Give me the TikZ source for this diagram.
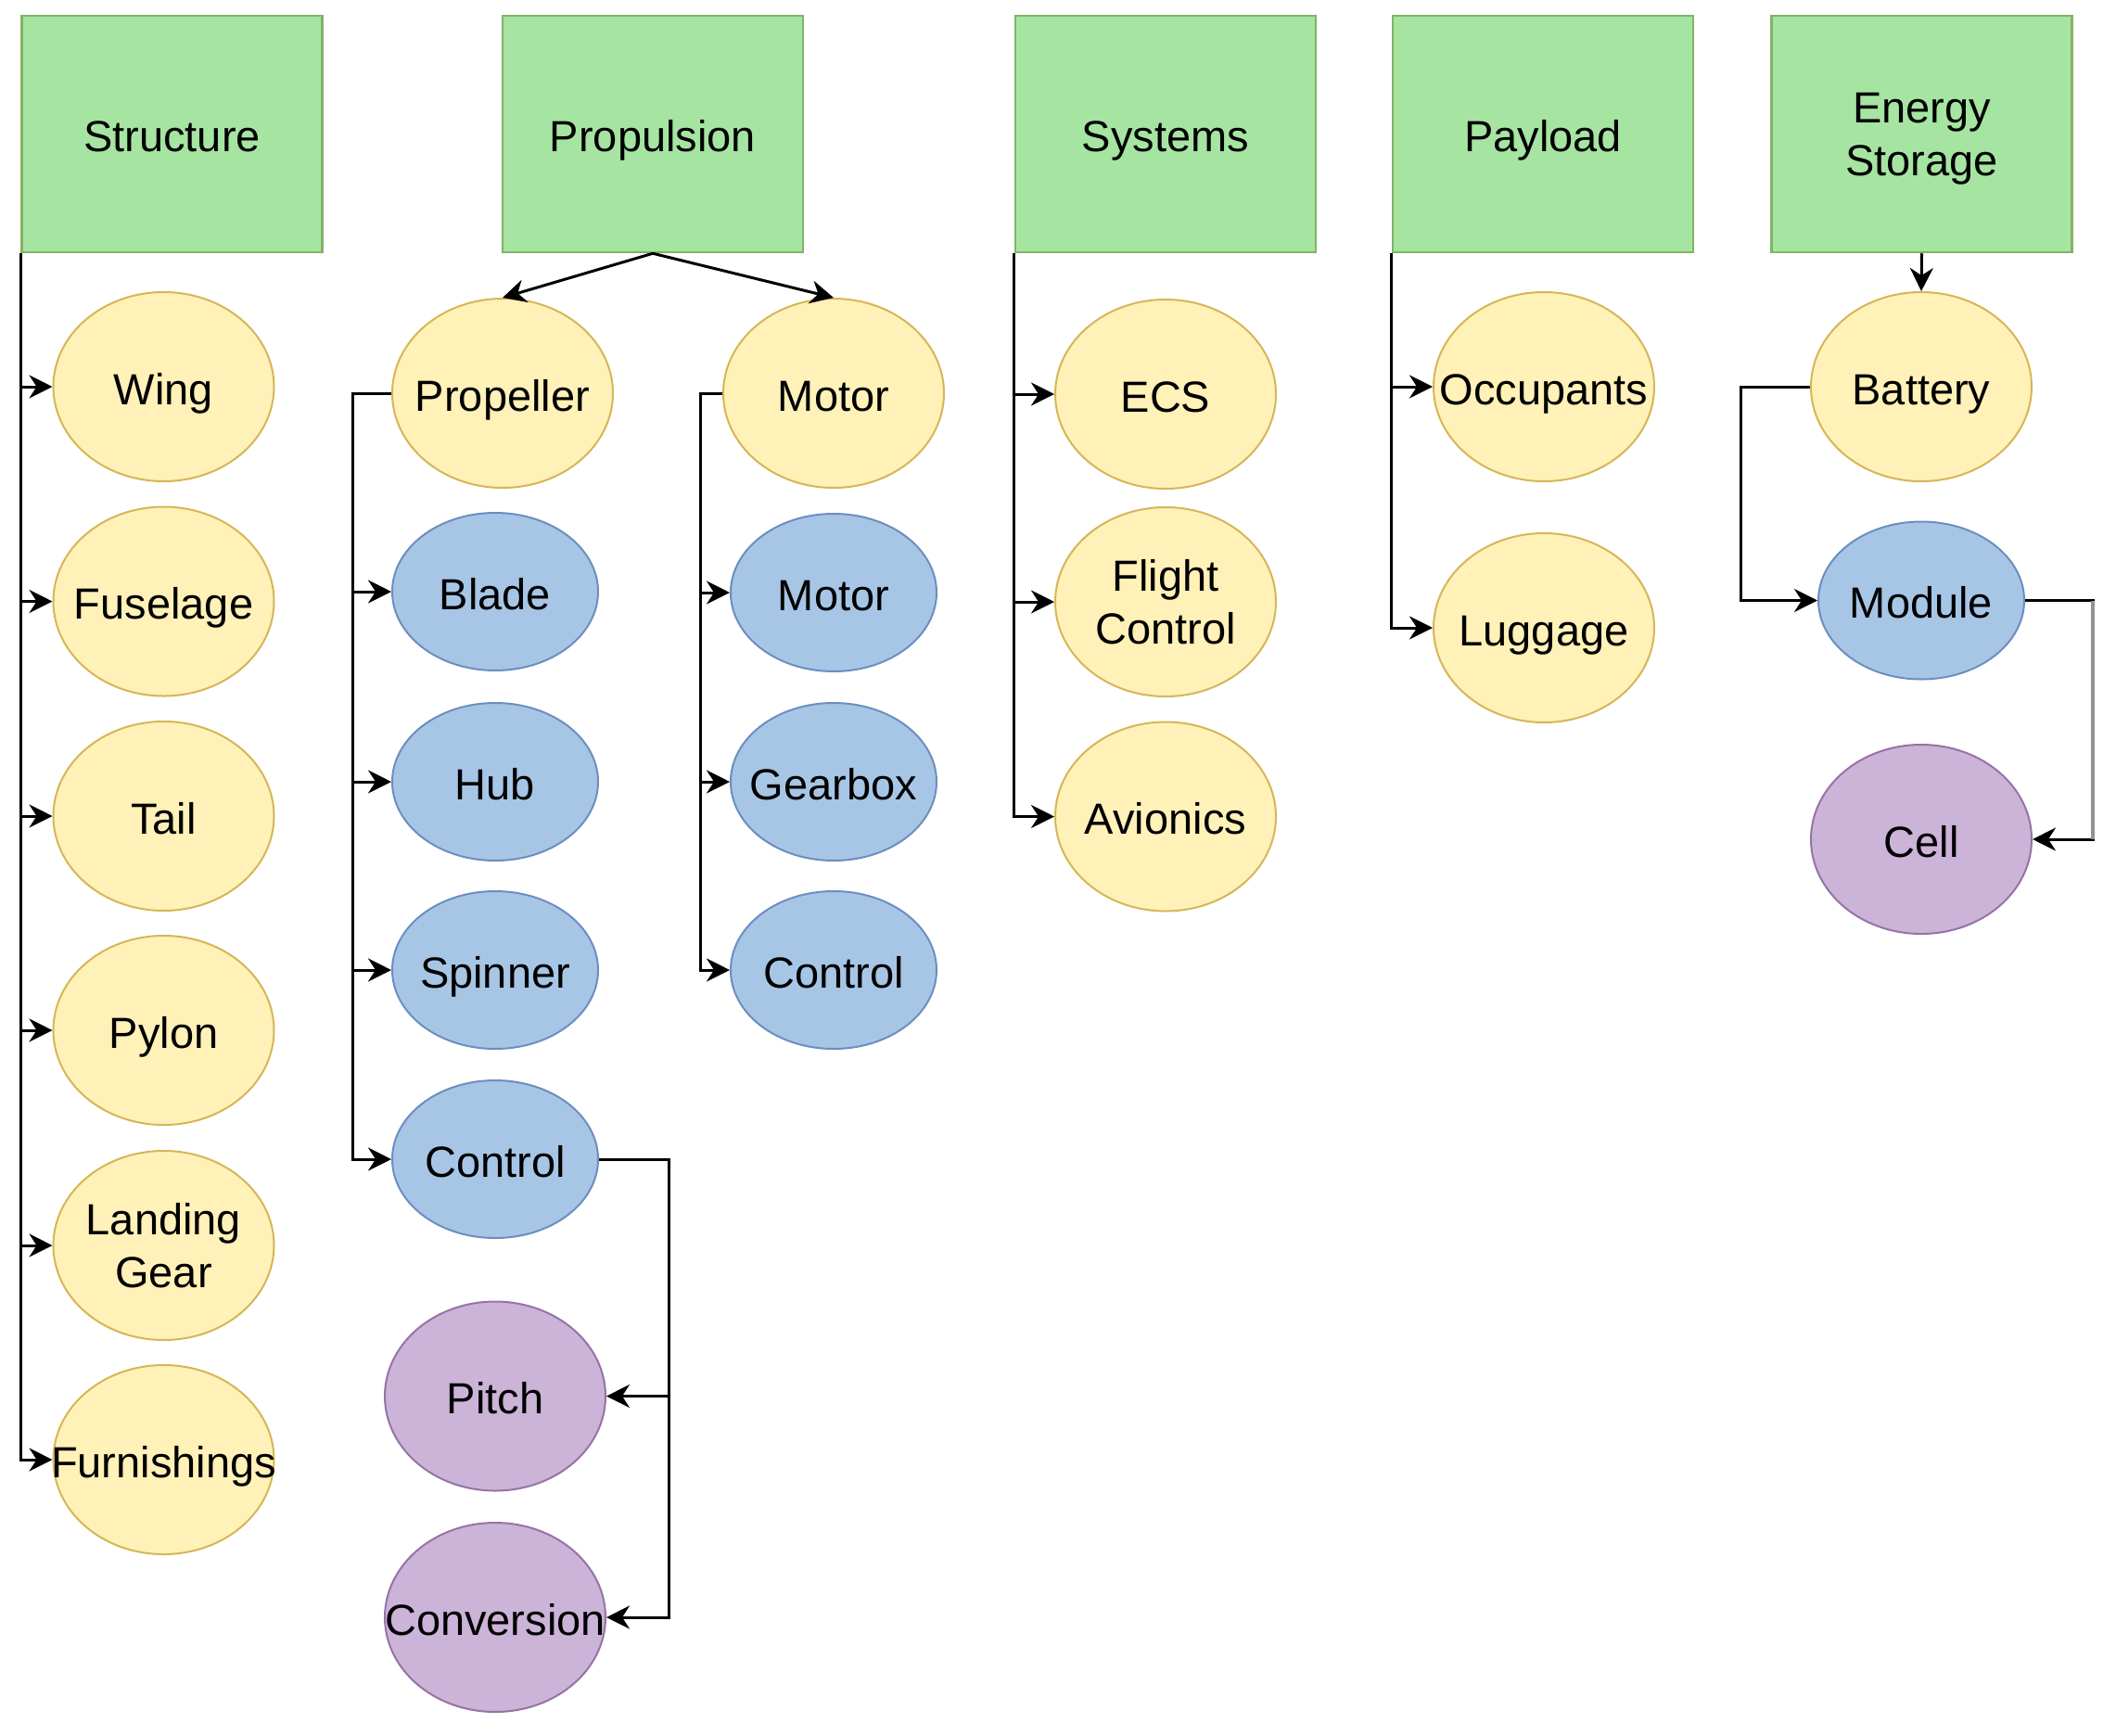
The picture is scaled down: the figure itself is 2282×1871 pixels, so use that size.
\documentclass[tikz,border=0pt]{standalone}
\usepackage{fontspec}
\setmainfont{Liberation Sans}
\usetikzlibrary{shapes.geometric,arrows.meta}
\definecolor{gfill}{HTML}{A6E4A2}
\definecolor{gstroke}{HTML}{82B366}
\definecolor{yfill}{HTML}{FFF1B8}
\definecolor{ystroke}{HTML}{D6B656}
\definecolor{bfill}{HTML}{A7C6E6}
\definecolor{bstroke}{HTML}{6C8EBF}
\definecolor{pfill}{HTML}{CCB3D8}
\definecolor{pstroke}{HTML}{9673A6}
\newcommand\tx[1]{\raisebox{-8pt}[\height][\depth]{\makebox[0pt]{\begin{tabular}{@{}c@{}}#1\end{tabular}}}}
\newcommand\ttx[1]{\raisebox{-5.5pt}[\height][\depth]{\makebox[0pt]{\begin{tabular}{@{}c@{}}#1\end{tabular}}}}
\begin{document}
\begin{tikzpicture}[x=1pt,y=-1pt,font=\fontsize{47}{57}\selectfont,
  cat/.style={rectangle,draw=gstroke,fill=gfill,line width=2.5pt,minimum width=324pt,minimum height=255pt,inner sep=0pt},
  yel/.style={ellipse,draw=ystroke,fill=yfill,line width=2pt,minimum width=238pt,minimum height=204pt,inner sep=0pt},
  blu/.style={ellipse,draw=bstroke,fill=bfill,line width=2pt,minimum width=222pt,minimum height=170pt,inner sep=0pt},
  pur/.style={ellipse,draw=pstroke,fill=pfill,line width=2pt,minimum width=238pt,minimum height=204pt,inner sep=0pt},
  conn/.style={line width=3pt,-{Stealth[length=25pt,width=25pt,inset=8pt]}}]
\useasboundingbox (0,0) rectangle (2282,1871);
% categories
\node[cat] (structure) at (185.5,144.5) {\tx{Structure}};
\node[cat] (propulsion) at (704,144.5) {\tx{Propulsion}};
\node[cat] (systems) at (1257,144.5) {\tx{Systems}};
\node[cat] (payload) at (1664,144.5) {\tx{Payload}};
\node[cat] (energy) at (2072.5,144.5) {\ttx{Energy\\Storage}};
% structure
\node[yel] (wing) at (176.5,417) {\tx{Wing}};
\node[yel] (fuselage) at (176.5,648.5) {\tx{Fuselage}};
\node[yel] (tail) at (176.5,880) {\tx{Tail}};
\node[yel] (pylon) at (176.5,1111) {\tx{Pylon}};
\node[yel] (landing) at (176.5,1343) {\ttx{Landing\\Gear}};
\node[yel] (furnish) at (176.5,1574) {\tx{Furnishings}};
% propulsion
\node[yel] (propeller) at (542,424) {\tx{Propeller}};
\node[yel] (motor) at (899,424) {\tx{Motor}};
\node[blu] (blade) at (534,638) {\tx{Blade}};
\node[blu] (hub) at (534,843) {\tx{Hub}};
\node[blu] (spinner) at (534,1046) {\tx{Spinner}};
\node[blu] (pctrl) at (534,1250) {\tx{Control}};
\node[pur] (pitch) at (534,1505.5) {\tx{Pitch}};
\node[pur] (conversion) at (534,1744) {\tx{Conversion}};
\node[blu] (mmotor) at (899,639) {\tx{Motor}};
\node[blu] (gearbox) at (899,843) {\tx{Gearbox}};
\node[blu] (mctrl) at (899,1046) {\tx{Control}};
% systems
\node[yel] (ecs) at (1257,425) {\tx{ECS}};
\node[yel] (flight) at (1257,649) {\ttx{Flight\\Control}};
\node[yel] (avionics) at (1257,880.5) {\tx{Avionics}};
% payload
\node[yel] (occupants) at (1665,417) {\tx{Occupants}};
\node[yel] (luggage) at (1665,677) {\tx{Luggage}};
% energy
\node[yel] (battery) at (2072,417) {\tx{Battery}};
\node[blu] (module) at (2072,647.5) {\tx{Module}};
\node[pur] (cell) at (2072,905) {\tx{Cell}};
% trunk coordinates
\coordinate (pt) at (380,0);
\coordinate (mt) at (755,0);
\coordinate (ct) at (721,0);
\coordinate (et) at (1877,0);
\coordinate (ec) at (2257,0);
% structure edges
\foreach \n in {wing,fuselage,tail,pylon,landing,furnish}
  \draw[conn] (structure.south west) |- (\n.west);
% propulsion edges
\draw[conn] (propulsion.south) -- (propeller.north);
\draw[conn] (propulsion.south) -- (motor.north);
\foreach \n in {blade,hub,spinner,pctrl}
  \draw[conn] (propeller.west) -- (propeller.west -| pt) |- (\n.west);
\foreach \n in {mmotor,gearbox,mctrl}
  \draw[conn] (motor.west) -- (motor.west -| mt) |- (\n.west);
\draw[conn] (pctrl.east) -- (pctrl.east -| ct) |- (pitch.east);
\draw[conn] (pctrl.east) -- (pctrl.east -| ct) |- (conversion.east);
% systems edges
\foreach \n in {ecs,flight,avionics}
  \draw[conn] (systems.south west) |- (\n.west);
% payload edges
\foreach \n in {occupants,luggage}
  \draw[conn] (payload.south west) |- (\n.west);
% energy edges
\draw[conn] (energy.south) -- (battery.north);
\draw[conn] (battery.west) -- (battery.west -| et) |- (module.west);
\draw[conn] (module.east) -- (module.east -| ec) |- (cell.east);
\draw[line width=4pt,gray!85] (module.east -| ec) -- (cell.east -| ec);
\end{tikzpicture}
\end{document}
